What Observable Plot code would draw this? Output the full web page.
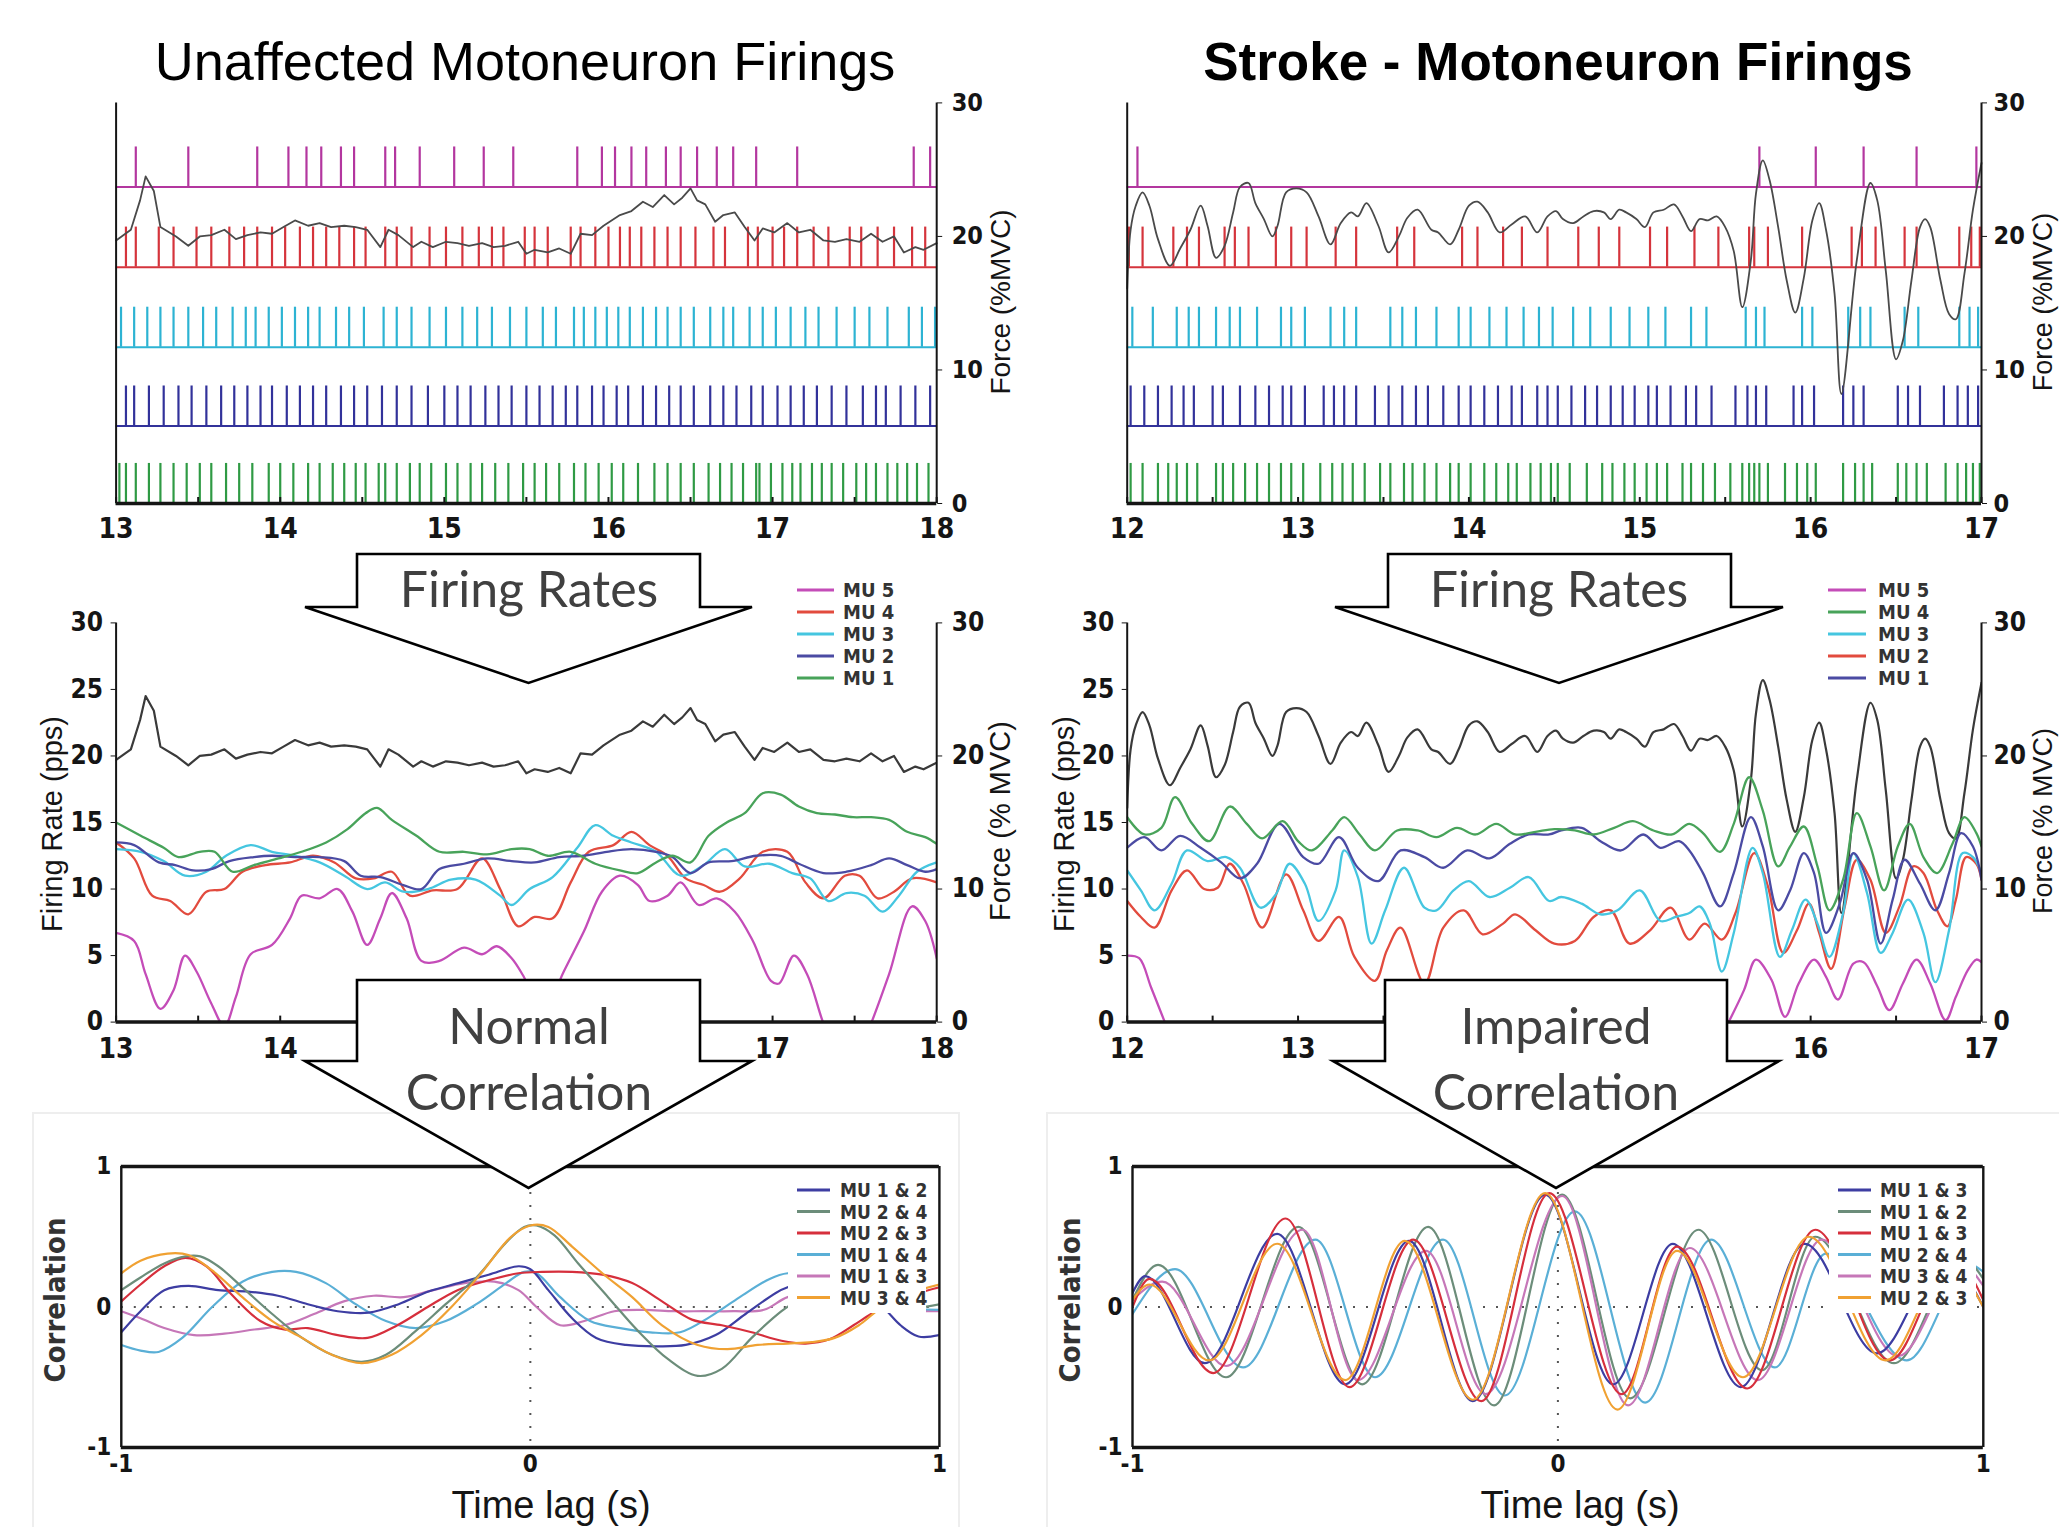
<!DOCTYPE html>
<html><head><meta charset="utf-8">
<script src="https://cdn.jsdelivr.net/npm/d3@7"></script>
<script src="https://cdn.jsdelivr.net/npm/@observablehq/plot@0.6"></script>
<style>
html,body{margin:0;padding:0;background:#fff;}
#root{position:relative;width:2059px;height:1527px;overflow:hidden;background:#fff;}
</style></head>
<body><div id="root"></div>
<script>
// ---------------- DATA ----------------
// Axis ticks (labels hidden by the arrow boxes in the middle row are not drawn)
const xTicksL = [13, 14, 15, 16, 17, 18];
const xTicksR = [12, 13, 14, 15, 16, 17];
const xTicksMidL = [13, 14, 17, 18];
const xTicksMidR = [12, 13, 16, 17];
const minorL = [13, 13.5, 14, 14.5, 15, 15.5, 16, 16.5, 17, 17.5, 18];
const minorR = [12, 12.5, 13, 13.5, 14, 14.5, 15, 15.5, 16, 16.5, 17];
const forceTicks = [0, 10, 20, 30];
const rateTicks = [0, 5, 10, 15, 20, 25, 30];
const lagTicks = [-1, 0, 1];
const corrTicks = [-1, 0, 1];

// Spike times (s) - unaffected
const spkL_MU5 = [13.12,13.44,13.86,14.05,14.16,14.25,14.37,14.45,14.64,14.70,14.85,15.06,15.24,15.42,15.81,15.96,16.04,16.14,16.23,16.35,16.44,16.54,16.66,16.76,16.90,17.15,17.86,17.96];
const spkL_MU4 = [13.06,13.12,13.26,13.35,13.49,13.58,13.69,13.78,13.86,13.95,14.03,14.12,14.20,14.28,14.36,14.45,14.52,14.64,14.71,14.80,14.91,15.01,15.11,15.21,15.29,15.36,15.49,15.55,15.63,15.77,15.83,15.92,16.00,16.07,16.13,16.20,16.28,16.36,16.44,16.53,16.64,16.71,16.85,16.91,17.00,17.07,17.15,17.25,17.34,17.47,17.54,17.64,17.74,17.85,17.93];
const spkL_MU3 = [13.03,13.11,13.19,13.27,13.35,13.44,13.53,13.61,13.71,13.79,13.85,13.93,14.01,14.09,14.17,14.24,14.34,14.42,14.51,14.63,14.71,14.80,14.91,15.01,15.11,15.20,15.29,15.40,15.50,15.60,15.68,15.79,15.85,15.92,15.99,16.06,16.13,16.21,16.29,16.36,16.44,16.52,16.62,16.70,16.76,16.86,16.94,17.02,17.11,17.20,17.28,17.39,17.50,17.59,17.70,17.83,17.91,17.99];
const spkL_MU2 = [13.06,13.11,13.20,13.29,13.38,13.46,13.55,13.64,13.72,13.80,13.88,13.95,14.04,14.12,14.20,14.28,14.37,14.45,14.53,14.62,14.71,14.80,14.90,15.00,15.08,15.16,15.25,15.33,15.41,15.50,15.58,15.66,15.74,15.81,15.90,15.97,16.05,16.12,16.21,16.29,16.37,16.44,16.52,16.62,16.70,16.78,16.87,16.94,17.03,17.11,17.19,17.27,17.36,17.45,17.55,17.63,17.69,17.78,17.87,17.96];
const spkL_MU1 = [13.02,13.06,13.12,13.20,13.27,13.35,13.43,13.51,13.58,13.67,13.75,13.83,13.93,14.00,14.08,14.17,14.24,14.32,14.39,14.46,14.52,14.60,14.64,14.71,14.79,14.85,14.92,15.01,15.08,15.16,15.23,15.31,15.39,15.48,15.55,15.62,15.70,15.79,15.86,15.94,16.02,16.09,16.18,16.28,16.36,16.44,16.52,16.61,16.68,16.75,16.82,16.90,16.92,16.99,17.06,17.12,17.17,17.24,17.30,17.36,17.43,17.51,17.57,17.63,17.70,17.76,17.82,17.88,17.95];

// Spike times (s) - stroke
const spkR_MU5 = [12.06,15.70,16.03,16.31,16.62,16.97];
const spkR_MU2 = [12.01,12.09,12.27,12.35,12.42,12.57,12.63,12.71,12.87,12.96,13.05,13.22,13.34,13.58,13.68,13.96,14.05,14.20,14.31,14.46,14.64,14.76,14.88,15.06,15.16,15.32,15.46,15.64,15.67,15.75,15.95,16.24,16.30,16.38,16.55,16.62,16.87,16.94,16.99];
const spkR_MU3 = [12.03,12.15,12.29,12.36,12.42,12.52,12.60,12.66,12.76,12.90,12.96,13.04,13.19,13.27,13.34,13.54,13.61,13.69,13.81,13.94,14.01,14.12,14.22,14.32,14.41,14.49,14.61,14.71,14.83,14.94,15.05,15.15,15.30,15.39,15.62,15.68,15.73,15.95,16.01,16.22,16.29,16.35,16.55,16.63,16.87,16.93,16.98];
const spkR_MU1 = [12.02,12.10,12.18,12.26,12.33,12.39,12.50,12.56,12.66,12.75,12.83,12.91,12.96,13.04,13.15,13.21,13.27,13.34,13.45,13.53,13.61,13.69,13.76,13.85,13.94,14.01,14.09,14.17,14.25,14.31,14.40,14.46,14.52,14.60,14.68,14.75,14.83,14.90,14.97,15.05,15.10,15.18,15.27,15.33,15.42,15.56,15.63,15.68,15.74,15.90,15.95,16.02,16.19,16.25,16.31,16.51,16.57,16.64,16.78,16.86,16.92,16.98];
const spkR_MU4 = [12.02,12.09,12.18,12.24,12.29,12.35,12.41,12.52,12.56,12.62,12.69,12.76,12.83,12.90,12.96,13.03,13.13,13.20,13.26,13.32,13.39,13.48,13.54,13.62,13.67,13.74,13.81,13.89,13.94,14.01,14.09,14.16,14.23,14.28,14.36,14.42,14.48,14.52,14.59,14.69,14.78,14.84,14.91,14.97,15.04,15.10,15.16,15.25,15.30,15.37,15.44,15.53,15.60,15.64,15.67,15.70,15.75,15.85,15.92,15.98,16.03,16.19,16.26,16.31,16.36,16.51,16.56,16.62,16.68,16.79,16.86,16.91,16.95,16.99];

// Force (%MVC) [time, value]
const forceL = [[13.0,19.7],[13.09,20.5],[13.146,22.7],[13.18,24.5],[13.23,23.4],[13.27,20.7],[13.365,20.0],[13.44,19.3],[13.51,20.0],[13.58,20.1],[13.66,20.5],[13.73,19.8],[13.80,20.1],[13.88,20.3],[13.95,20.2],[14.02,20.7],[14.09,21.2],[14.17,20.8],[14.24,21.0],[14.31,20.7],[14.39,20.8],[14.46,20.7],[14.53,20.5],[14.61,19.2],[14.66,20.5],[14.72,20.1],[14.81,19.2],[14.86,19.6],[14.93,19.2],[15.01,19.6],[15.08,19.5],[15.15,19.3],[15.23,19.5],[15.30,19.2],[15.37,19.3],[15.45,19.6],[15.50,18.7],[15.55,19.0],[15.63,18.8],[15.70,19.1],[15.77,18.7],[15.83,20.2],[15.90,20.1],[15.97,20.8],[16.07,21.6],[16.14,21.9],[16.21,22.6],[16.27,22.2],[16.34,23.1],[16.40,22.4],[16.45,22.9],[16.50,23.6],[16.54,22.7],[16.59,22.4],[16.65,21.1],[16.70,21.6],[16.77,21.8],[16.83,20.7],[16.89,19.7],[16.94,20.6],[17.01,20.3],[17.09,21.0],[17.16,20.3],[17.23,20.5],[17.31,19.7],[17.38,19.6],[17.45,19.8],[17.53,19.6],[17.60,20.2],[17.67,19.6],[17.74,20.0],[17.80,18.8],[17.87,19.2],[17.92,19.0],[18.0,19.5]];
const forceR = [[12.0,16.1],[12.02,20.5],[12.05,22.3],[12.09,23.3],[12.13,22.3],[12.18,19.8],[12.25,17.8],[12.31,19.1],[12.37,20.5],[12.43,22.3],[12.47,20.8],[12.52,18.4],[12.57,19.3],[12.62,21.8],[12.66,23.7],[12.71,24.0],[12.75,22.5],[12.80,21.3],[12.85,20.0],[12.88,20.8],[12.93,23.3],[12.99,23.6],[13.05,23.3],[13.12,21.5],[13.19,19.4],[13.25,21.0],[13.31,21.8],[13.35,21.5],[13.40,22.5],[13.47,20.8],[13.53,18.8],[13.59,20.0],[13.64,21.4],[13.70,22.0],[13.78,20.5],[13.82,20.3],[13.89,19.4],[13.94,20.5],[14.00,22.3],[14.05,22.6],[14.11,21.8],[14.18,20.3],[14.25,20.9],[14.33,21.5],[14.40,20.3],[14.46,21.5],[14.51,21.9],[14.55,21.3],[14.61,21.0],[14.67,21.5],[14.73,21.9],[14.79,21.8],[14.83,21.3],[14.88,22.0],[14.92,21.8],[14.98,21.3],[15.03,20.7],[15.08,21.8],[15.14,22.0],[15.20,22.4],[15.25,21.5],[15.30,20.4],[15.35,21.3],[15.40,21.2],[15.45,21.5],[15.50,20.7],[15.55,18.9],[15.60,14.7],[15.65,18.2],[15.68,23.2],[15.72,25.7],[15.76,24.2],[15.81,20.7],[15.86,16.7],[15.91,14.3],[15.96,16.9],[16.01,21.2],[16.05,22.5],[16.09,20.5],[16.14,15.7],[16.18,8.2],[16.27,18.2],[16.35,24.0],[16.39,22.7],[16.44,17.4],[16.50,10.8],[16.54,12.2],[16.59,16.7],[16.64,20.7],[16.67,21.3],[16.70,20.7],[16.76,16.7],[16.81,14.2],[16.85,13.8],[16.90,17.2],[16.95,22.0],[17.0,25.5]];

// Firing rates (pps) - unaffected [time, rate]
const rateL_MU1 = [[13.0,15.0],[13.15,14.0],[13.29,13.1],[13.38,12.4],[13.51,12.8],[13.60,12.8],[13.71,11.3],[13.84,11.8],[13.99,12.3],[14.13,12.8],[14.28,13.5],[14.41,14.5],[14.52,15.7],[14.59,16.1],[14.68,15.2],[14.83,14.0],[14.97,12.8],[15.12,12.8],[15.26,12.6],[15.41,13.0],[15.52,13.0],[15.63,12.5],[15.77,12.8],[15.92,11.9],[16.07,11.4],[16.18,11.2],[16.29,12.0],[16.39,12.5],[16.50,12.0],[16.61,14.0],[16.72,15.0],[16.83,15.7],[16.94,17.2],[17.05,17.1],[17.16,16.2],[17.27,15.7],[17.38,15.6],[17.49,15.4],[17.60,15.4],[17.71,15.2],[17.82,14.3],[17.93,13.9],[18.0,13.4]];
const rateL_MU2 = [[13.0,13.5],[13.11,13.3],[13.26,12.0],[13.36,11.8],[13.47,11.4],[13.58,11.5],[13.69,12.1],[13.84,12.4],[13.95,12.5],[14.09,12.4],[14.24,12.4],[14.39,12.1],[14.49,11.0],[14.61,10.9],[14.75,10.3],[14.86,10.0],[14.97,11.5],[15.12,11.9],[15.26,12.3],[15.41,12.1],[15.55,12.0],[15.70,12.4],[15.85,12.5],[15.99,12.8],[16.14,13.0],[16.29,12.8],[16.39,12.4],[16.50,11.2],[16.61,12.0],[16.75,12.1],[16.90,12.5],[17.05,12.5],[17.16,11.9],[17.31,11.2],[17.45,11.3],[17.60,11.8],[17.71,12.3],[17.82,11.8],[17.93,11.3],[18.0,11.5]];
const rateL_MU3 = [[13.0,13.0],[13.15,12.8],[13.29,12.1],[13.42,11.0],[13.55,11.3],[13.67,12.5],[13.82,13.3],[13.95,12.8],[14.09,12.5],[14.24,12.0],[14.39,11.0],[14.53,10.0],[14.64,10.5],[14.75,9.8],[14.90,10.0],[15.04,10.7],[15.19,10.7],[15.34,9.5],[15.41,8.8],[15.52,10.0],[15.66,10.9],[15.81,13.1],[15.92,14.8],[16.03,14.0],[16.14,13.5],[16.29,12.8],[16.44,11.0],[16.58,11.8],[16.71,13.0],[16.83,11.7],[16.98,11.9],[17.12,11.2],[17.23,10.8],[17.34,9.1],[17.45,9.7],[17.56,9.5],[17.67,8.3],[17.77,9.5],[17.88,11.3],[18.0,12.0]];
const rateL_MU4 = [[13.0,13.5],[13.11,12.3],[13.22,9.5],[13.33,9.1],[13.44,8.1],[13.55,9.8],[13.66,10.0],[13.77,11.3],[13.91,11.8],[14.06,12.0],[14.20,12.5],[14.33,12.0],[14.46,10.8],[14.57,10.8],[14.68,11.3],[14.79,9.5],[14.93,9.9],[15.08,10.0],[15.23,12.3],[15.34,10.0],[15.45,7.2],[15.55,7.9],[15.66,7.8],[15.77,10.5],[15.88,12.8],[16.03,13.3],[16.14,14.3],[16.25,13.3],[16.36,12.5],[16.47,10.8],[16.58,10.3],[16.68,9.8],[16.80,10.8],[16.94,12.8],[17.09,12.8],[17.20,10.5],[17.31,9.3],[17.44,11.0],[17.53,11.0],[17.64,9.3],[17.74,9.8],[17.85,10.8],[18.0,10.5]];
const rateL_MU5 = [[13.0,6.7],[13.11,6.1],[13.18,3.6],[13.27,1.0],[13.35,2.4],[13.42,5.0],[13.49,3.8],[13.58,1.4],[13.66,-0.3],[13.73,1.9],[13.82,5.1],[13.95,5.8],[14.06,7.8],[14.13,9.5],[14.24,9.3],[14.35,10.0],[14.44,8.3],[14.53,5.8],[14.61,7.8],[14.68,9.7],[14.77,7.8],[14.86,4.6],[14.97,4.6],[15.12,5.6],[15.23,5.1],[15.32,5.7],[15.41,4.8],[15.48,3.5],[15.55,1.9],[15.64,1.5],[15.72,3.6],[15.85,6.8],[15.96,9.8],[16.07,11.0],[16.18,10.3],[16.25,9.1],[16.36,9.5],[16.44,10.5],[16.55,8.8],[16.66,9.3],[16.77,8.3],[16.88,6.1],[16.99,3.1],[17.04,2.9],[17.13,5.0],[17.21,3.6],[17.31,-0.1],[17.38,-2],[17.53,-2],[17.60,-0.1],[17.71,3.6],[17.85,8.7],[17.93,7.6],[18.0,4.8]];

// Firing rates (pps) - stroke
const rateR_MU4 = [[12.0,15.4],[12.10,14.1],[12.20,14.6],[12.28,16.9],[12.38,14.9],[12.48,13.6],[12.60,16.2],[12.70,14.9],[12.79,13.8],[12.91,15.1],[13.00,13.6],[13.08,12.9],[13.20,14.4],[13.27,15.4],[13.36,14.1],[13.45,12.9],[13.58,14.4],[13.70,14.4],[13.81,13.9],[13.93,14.6],[14.04,14.1],[14.16,14.9],[14.27,14.1],[14.39,14.3],[14.50,14.5],[14.62,14.4],[14.73,14.1],[14.85,14.6],[14.96,15.1],[15.08,14.4],[15.19,14.1],[15.29,14.9],[15.37,14.2],[15.47,12.8],[15.55,14.9],[15.64,18.4],[15.72,15.9],[15.81,11.7],[15.88,13.2],[15.96,14.7],[16.04,11.7],[16.11,8.4],[16.19,10.7],[16.27,15.7],[16.35,13.2],[16.43,9.9],[16.51,13.2],[16.58,14.9],[16.66,12.4],[16.74,11.2],[16.83,13.4],[16.90,15.4],[16.97,14.2],[17.0,13.2]];
const rateR_MU1 = [[12.0,13.1],[12.10,13.9],[12.20,12.9],[12.31,14.0],[12.43,13.1],[12.55,12.0],[12.66,10.8],[12.76,11.9],[12.89,14.9],[13.03,12.4],[13.12,11.9],[13.24,13.9],[13.35,11.6],[13.47,10.6],[13.60,12.9],[13.74,12.4],[13.85,11.6],[13.99,12.9],[14.12,12.3],[14.24,13.4],[14.35,14.1],[14.47,14.1],[14.54,14.4],[14.66,14.6],[14.77,13.6],[14.89,12.9],[15.02,14.1],[15.12,13.1],[15.23,13.6],[15.29,12.9],[15.37,11.2],[15.47,8.7],[15.55,11.2],[15.65,15.4],[15.72,13.2],[15.81,8.4],[15.88,9.9],[15.96,12.7],[16.02,11.2],[16.09,6.7],[16.17,8.9],[16.25,12.7],[16.33,10.7],[16.41,5.9],[16.48,9.2],[16.55,12.2],[16.64,10.4],[16.73,8.4],[16.81,11.2],[16.88,14.2],[16.95,13.2],[17.0,10.7]];
const rateR_MU3 = [[12.0,11.4],[12.08,9.9],[12.16,8.4],[12.26,10.4],[12.35,12.9],[12.47,12.1],[12.58,12.4],[12.66,11.6],[12.78,8.6],[12.87,9.6],[12.95,11.9],[13.04,10.4],[13.12,7.6],[13.22,9.9],[13.27,12.9],[13.35,10.9],[13.43,5.9],[13.51,8.4],[13.62,11.6],[13.74,8.6],[13.81,8.4],[13.91,9.9],[14.00,10.6],[14.12,9.4],[14.24,10.1],[14.35,10.9],[14.47,9.1],[14.54,9.4],[14.66,8.9],[14.77,8.1],[14.87,8.4],[15.00,9.9],[15.12,7.6],[15.21,7.9],[15.29,8.2],[15.35,8.7],[15.41,7.4],[15.48,3.8],[15.55,6.7],[15.66,13.1],[15.72,11.2],[15.82,4.9],[15.89,6.9],[15.97,9.2],[16.04,7.4],[16.11,4.9],[16.19,8.2],[16.25,12.7],[16.33,9.7],[16.41,5.2],[16.48,6.7],[16.57,9.2],[16.66,6.7],[16.73,3.0],[16.81,6.9],[16.89,12.7],[16.95,12.4],[17.0,11.2]];
const rateR_MU2 = [[12.0,9.1],[12.08,7.9],[12.16,7.1],[12.26,9.9],[12.35,11.4],[12.45,10.0],[12.53,10.1],[12.60,11.9],[12.68,10.4],[12.79,7.1],[12.93,11.1],[13.03,8.4],[13.12,6.1],[13.24,7.9],[13.33,4.9],[13.45,3.1],[13.52,5.4],[13.60,7.1],[13.74,2.9],[13.85,7.1],[13.97,8.4],[14.08,6.6],[14.20,7.4],[14.27,8.1],[14.39,6.9],[14.50,5.9],[14.62,6.1],[14.73,7.9],[14.83,8.4],[14.94,5.9],[15.06,6.9],[15.18,8.6],[15.29,6.2],[15.38,7.4],[15.48,6.2],[15.56,8.2],[15.67,12.7],[15.75,10.2],[15.84,5.2],[15.92,6.9],[15.99,8.9],[16.05,6.7],[16.12,4.0],[16.20,8.7],[16.27,12.2],[16.35,10.7],[16.44,6.7],[16.52,8.7],[16.60,11.7],[16.66,11.2],[16.74,8.4],[16.80,7.2],[16.85,9.2],[16.91,12.4],[16.97,11.9],[17.0,10.7]];
const rateR_MU5 = [[12.0,5.0],[12.07,4.8],[12.14,2.6],[12.22,0],[12.25,null],[15.52,0],[15.61,2.4],[15.68,4.7],[15.77,3.2],[15.85,0.4],[15.93,2.9],[16.02,4.7],[16.09,3.4],[16.16,1.7],[16.25,4.4],[16.31,4.5],[16.39,2.7],[16.46,0.9],[16.54,2.9],[16.62,4.7],[16.70,2.9],[16.79,0.15],[16.85,1.9],[16.92,3.9],[16.97,4.7],[17.0,4.5]];

// Cross-correlation [lag (s), r] - unaffected
const corrL_12 = [[-1.0,-0.18],[-0.953,-0.03],[-0.895,0.12],[-0.836,0.15],[-0.763,0.12],[-0.690,0.11],[-0.617,0.08],[-0.544,0.02],[-0.471,-0.03],[-0.395,-0.04],[-0.322,0.02],[-0.249,0.11],[-0.176,0.17],[-0.102,0.23],[-0.029,0.29],[0.0,0.27],[0.044,0.12],[0.102,-0.08],[0.161,-0.22],[0.234,-0.27],[0.307,-0.28],[0.380,-0.27],[0.453,-0.20],[0.526,-0.05],[0.600,0.10],[0.629,0.14],[0.72,0.2],[0.80,0.12],[0.861,0.0],[0.905,-0.13],[0.949,-0.21],[1.0,-0.2]];
const corrL_24 = [[-1.0,0.12],[-0.953,0.21],[-0.895,0.31],[-0.843,0.36],[-0.807,0.36],[-0.763,0.29],[-0.704,0.14],[-0.631,-0.05],[-0.558,-0.22],[-0.485,-0.34],[-0.412,-0.39],[-0.353,-0.34],[-0.280,-0.17],[-0.207,0.02],[-0.132,0.21],[-0.059,0.46],[-0.015,0.57],[0.015,0.58],[0.059,0.51],[0.117,0.31],[0.190,0.07],[0.263,-0.17],[0.336,-0.37],[0.409,-0.49],[0.468,-0.44],[0.541,-0.22],[0.614,-0.03],[0.66,0.06],[0.75,0.2],[0.85,0.1],[0.93,0.0],[1.0,0.02]];
const corrL_23 = [[-1.0,0.04],[-0.953,0.16],[-0.895,0.29],[-0.843,0.35],[-0.792,0.29],[-0.734,0.10],[-0.660,-0.10],[-0.602,-0.16],[-0.544,-0.15],[-0.471,-0.20],[-0.398,-0.22],[-0.325,-0.13],[-0.251,0.0],[-0.178,0.12],[-0.102,0.19],[-0.029,0.24],[0.029,0.25],[0.102,0.25],[0.176,0.23],[0.249,0.17],[0.322,0.04],[0.395,-0.09],[0.468,-0.13],[0.541,-0.18],[0.614,-0.24],[0.673,-0.26],[0.731,-0.23],[0.790,-0.13],[0.833,-0.05],[0.9,0.05],[0.95,0.1],[1.0,0.14]];
const corrL_14 = [[-1.0,-0.27],[-0.953,-0.31],[-0.909,-0.32],[-0.851,-0.22],[-0.778,0.0],[-0.704,0.18],[-0.631,0.25],[-0.573,0.25],[-0.500,0.17],[-0.427,0.02],[-0.353,-0.10],[-0.280,-0.15],[-0.207,-0.10],[-0.132,0.02],[-0.059,0.17],[-0.015,0.25],[0.015,0.24],[0.073,0.07],[0.146,-0.10],[0.220,-0.15],[0.293,-0.18],[0.366,-0.18],[0.439,-0.07],[0.512,0.07],[0.585,0.20],[0.629,0.24],[0.7,0.22],[0.8,0.08],[0.9,0.0],[1.0,-0.02]];
const corrL_13 = [[-1.0,-0.03],[-0.953,-0.08],[-0.895,-0.15],[-0.822,-0.20],[-0.748,-0.19],[-0.675,-0.16],[-0.602,-0.13],[-0.529,-0.05],[-0.456,0.04],[-0.383,0.08],[-0.310,0.07],[-0.237,0.12],[-0.161,0.17],[-0.088,0.18],[-0.029,0.12],[0.015,0.0],[0.073,-0.13],[0.132,-0.10],[0.205,-0.03],[0.278,-0.02],[0.351,-0.03],[0.424,-0.03],[0.497,-0.03],[0.571,-0.02],[0.629,0.07],[0.7,0.1],[0.8,0.03],[0.9,-0.02],[1.0,-0.03]];
const corrL_34 = [[-1.0,0.24],[-0.953,0.33],[-0.887,0.38],[-0.836,0.37],[-0.778,0.26],[-0.704,0.07],[-0.631,-0.10],[-0.558,-0.22],[-0.485,-0.34],[-0.412,-0.40],[-0.339,-0.34],[-0.266,-0.20],[-0.193,0.0],[-0.120,0.24],[-0.047,0.50],[0.0,0.58],[0.044,0.57],[0.102,0.43],[0.176,0.24],[0.249,0.07],[0.322,-0.13],[0.409,-0.27],[0.482,-0.30],[0.556,-0.27],[0.629,-0.26],[0.688,-0.25],[0.744,-0.22],[0.803,-0.13],[0.86,0.0],[0.93,0.1],[1.0,0.16]];

// Cross-correlation - stroke (extrema)
const corrR_13a = [[-1.0,0.10],[-0.97,0.22],[-0.83,-0.40],[-0.66,0.52],[-0.50,-0.55],[-0.35,0.47],[-0.20,-0.67],[-0.03,0.80],[0.13,-0.55],[0.27,0.45],[0.43,-0.57],[0.58,0.45],[0.75,-0.33],[0.91,0.35],[1.0,0.0]];
const corrR_12 = [[-1.0,0.05],[-0.94,0.30],[-0.78,-0.50],[-0.61,0.57],[-0.46,-0.55],[-0.305,0.57],[-0.15,-0.70],[0.01,0.80],[0.17,-0.65],[0.33,0.55],[0.48,-0.45],[0.605,0.50],[0.79,-0.40],[0.95,0.35],[1.0,0.2]];
const corrR_13b = [[-1.0,0.0],[-0.96,0.20],[-0.81,-0.47],[-0.64,0.63],[-0.49,-0.57],[-0.34,0.48],[-0.18,-0.67],[-0.02,0.81],[0.15,-0.62],[0.28,0.43],[0.445,-0.58],[0.605,0.55],[0.78,-0.38],[0.93,0.35],[1.0,0.05]];
const corrR_24 = [[-1.0,-0.05],[-0.90,0.27],[-0.74,-0.43],[-0.57,0.48],[-0.43,-0.50],[-0.27,0.48],[-0.125,-0.63],[0.04,0.68],[0.205,-0.68],[0.36,0.48],[0.51,-0.43],[0.63,0.38],[0.82,-0.38],[0.97,0.3],[1.0,0.25]];
const corrR_34 = [[-1.0,0.05],[-0.93,0.18],[-0.78,-0.42],[-0.60,0.55],[-0.47,-0.52],[-0.31,0.40],[-0.17,-0.62],[0.01,0.79],[0.165,-0.70],[0.31,0.42],[0.47,-0.52],[0.62,0.48],[0.80,-0.35],[0.95,0.3],[1.0,0.15]];
const corrR_23 = [[-1.0,0.05],[-0.96,0.16],[-0.82,-0.38],[-0.66,0.45],[-0.50,-0.52],[-0.36,0.47],[-0.20,-0.66],[-0.03,0.81],[0.14,-0.73],[0.28,0.40],[0.435,-0.50],[0.59,0.50],[0.77,-0.38],[0.92,0.3],[1.0,0.0]];

// Legend labels
const legendRateL = ["MU 5", "MU 4", "MU 3", "MU 2", "MU 1"];
const legendRateR = ["MU 5", "MU 4", "MU 3", "MU 2", "MU 1"];
const legendCorrL = ["MU 1 & 2", "MU 2 & 4", "MU 2 & 3", "MU 1 & 4", "MU 1 & 3", "MU 3 & 4"];
const legendCorrR = ["MU 1 & 3", "MU 1 & 2", "MU 1 & 3", "MU 2 & 4", "MU 3 & 4", "MU 2 & 3"];

// ---------------- STYLE ----------------
const NARROW = "'Liberation Sans Narrow','Arial Narrow','DejaVu Sans Condensed',sans-serif";
const SANS = "'Liberation Sans',Arial,sans-serif";
const CAL = "Lato,'Open Sans',sans-serif";
const RC = {mag: "#b3369f", red: "#d5343c", cyan: "#2db3d3", navy: "#32329a", green: "#2f9a44"};
const MC = {mag: "#c44cb8", red: "#e24b3e", cyan: "#45c6e0", navy: "#4b4ba3", green: "#48a35a", black: "#3a3a3a"};
const CC = {navy: "#3d3da2", sage: "#6c8d7a", red: "#d62f3c", blue: "#5aafd6", pink: "#c677b8", orange: "#f0a132"};
const INK = "#151515";
const fmt = d => String(d);
const XY = {x: d => d[0], y: d => d[1]};

const root = document.getElementById("root");
function place(node, left, top) {
  node.style.position = "absolute";
  node.style.left = left + "px";
  node.style.top = top + "px";
  root.appendChild(node);
}
function baseStyle(size) {
  return {fontFamily: NARROW, fontSize: size + "px", fontWeight: "bold", color: INK, background: "transparent", overflow: "visible"};
}

// ---------- Raster panels (top) ----------
function rasterPanel(cfg) {
  const marks = [];
  for (const r of cfg.rows) {
    marks.push(Plot.ruleY([r.base], {stroke: r.color, strokeWidth: 2}));
    marks.push(Plot.ruleX(r.times, {x: d => d, y1: () => r.base, y2: () => r.base + 3, stroke: r.color, strokeWidth: 2.2}));
  }
  marks.push(Plot.line(cfg.force, {...XY, stroke: "#4a4a4a", strokeWidth: 1.8, curve: cfg.forceCurve}));
  marks.push(Plot.ruleX([cfg.domain[0], cfg.domain[1]], {stroke: INK, strokeWidth: 2}));
  marks.push(Plot.ruleX(cfg.minor, {x: d => d, y1: () => 0, y2: () => 0.45, stroke: INK, strokeWidth: 2}));
  marks.push(Plot.ruleY([0], {stroke: INK, strokeWidth: 3.5}));
  marks.push(Plot.axisX({ticks: cfg.ticks, tickSize: 0, tickPadding: 15, tickFormat: fmt, label: null}));
  marks.push(Plot.axisY({anchor: "right", ticks: forceTicks, tickSize: 5, tickPadding: cfg.rPad, tickFormat: fmt, label: null, fontSize: 25}));
  return Plot.plot({
    width: cfg.width, height: 520,
    marginLeft: cfg.mL, marginRight: cfg.mR, marginTop: 42.4, marginBottom: 77,
    x: {domain: cfg.domain}, y: {domain: [0, 30]},
    style: baseStyle(28), marks
  });
}

// ---------- Firing-rate panels (middle) ----------
function ratePanel(cfg) {
  const marks = [];
  marks.push(Plot.line(cfg.force, {...XY, stroke: MC.black, strokeWidth: 2.2, curve: cfg.forceCurve, clip: true}));
  for (const s of cfg.series) {
    marks.push(Plot.line(s.data, {...XY, stroke: s.color, strokeWidth: 2.3, curve: "catmull-rom", clip: true}));
  }
  marks.push(Plot.ruleX([cfg.domain[0], cfg.domain[1]], {stroke: INK, strokeWidth: 2}));
  marks.push(Plot.ruleX(cfg.minor, {x: d => d, y1: () => 0, y2: () => 0.45, stroke: INK, strokeWidth: 2}));
  marks.push(Plot.ruleY([0], {stroke: INK, strokeWidth: 3.5}));
  marks.push(Plot.axisX({ticks: cfg.ticks, tickSize: 0, tickPadding: 16, tickFormat: fmt, label: null}));
  marks.push(Plot.axisY({anchor: "left", ticks: rateTicks, tickSize: 5, tickPadding: 8, tickFormat: fmt, label: null, fontSize: 26}));
  marks.push(Plot.axisY({anchor: "right", ticks: forceTicks, tickSize: 5, tickPadding: cfg.rPad, tickFormat: fmt, label: null, fontSize: 26}));
  return Plot.plot({
    width: cfg.width, height: 480,
    marginLeft: cfg.mL, marginRight: cfg.mR, marginTop: 22.4, marginBottom: 58.4,
    x: {domain: cfg.domain}, y: {domain: [0, 30]},
    style: baseStyle(28), marks
  });
}

// ---------- Correlation panels (bottom) ----------
function corrPanel(cfg) {
  const marks = [];
  marks.push(Plot.ruleY([0], {stroke: "#555", strokeWidth: 2, strokeDasharray: "2 11"}));
  marks.push(Plot.ruleX([0], {stroke: "#555", strokeWidth: 2, strokeDasharray: "2 11"}));
  for (const s of cfg.series) {
    marks.push(Plot.line(s.data, {...XY, stroke: s.color, strokeWidth: 2.2, curve: cfg.curve, clip: true}));
  }
  marks.push(Plot.ruleY([-1, 1], {stroke: INK, strokeWidth: 3.6}));
  marks.push(Plot.ruleX([-1, 1], {stroke: INK, strokeWidth: 2.4}));
  marks.push(Plot.axisX({ticks: lagTicks, tickSize: 0, tickPadding: 7, tickFormat: fmt, label: null}));
  marks.push(Plot.axisY({anchor: "left", ticks: corrTicks, tickSize: 0, tickPadding: 10, tickFormat: fmt, label: null}));
  return Plot.plot({
    width: cfg.width, height: 380,
    marginLeft: cfg.mL, marginRight: cfg.mR, marginTop: 46, marginBottom: 53,
    x: {domain: [-1, 1]}, y: {domain: [-1, 1]},
    style: baseStyle(24), marks
  });
}

// ---------------- BUILD ----------------
place(rasterPanel({
  domain: [13, 18], ticks: xTicksL, minor: minorL, force: forceL, forceCurve: "linear", width: 960, mL: 75.6, mR: 63.8, rPad: 10,
  rows: [
    {times: spkL_MU5, color: RC.mag, base: 23.7},
    {times: spkL_MU4, color: RC.red, base: 17.7},
    {times: spkL_MU3, color: RC.cyan, base: 11.7},
    {times: spkL_MU2, color: RC.navy, base: 5.8},
    {times: spkL_MU1, color: RC.green, base: 0}
  ]
}), 40, 60);

place(rasterPanel({
  domain: [12, 17], ticks: xTicksR, minor: minorR, force: forceR, forceCurve: "catmull-rom", width: 989, mL: 56.7, mR: 78, rPad: 7,
  rows: [
    {times: spkR_MU5, color: RC.mag, base: 23.7},
    {times: spkR_MU2, color: RC.red, base: 17.7},
    {times: spkR_MU3, color: RC.cyan, base: 11.7},
    {times: spkR_MU1, color: RC.navy, base: 5.8},
    {times: spkR_MU4, color: RC.green, base: 0}
  ]
}), 1070, 60);

place(ratePanel({
  domain: [13, 18], ticks: xTicksMidL, minor: minorL, force: forceL, forceCurve: "linear", width: 960, mL: 75.6, mR: 63.8, rPad: 10,
  series: [
    {data: rateL_MU5, color: MC.mag},
    {data: rateL_MU4, color: MC.red},
    {data: rateL_MU3, color: MC.cyan},
    {data: rateL_MU2, color: MC.navy},
    {data: rateL_MU1, color: MC.green}
  ]
}), 40, 600);

place(ratePanel({
  domain: [12, 17], ticks: xTicksMidR, minor: minorR, force: forceR, forceCurve: "catmull-rom", width: 1009, mL: 76.7, mR: 78, rPad: 7,
  series: [
    {data: rateR_MU5, color: MC.mag},
    {data: rateR_MU2, color: MC.red},
    {data: rateR_MU3, color: MC.cyan},
    {data: rateR_MU1, color: MC.navy},
    {data: rateR_MU4, color: MC.green}
  ]
}), 1050, 600);

place(corrPanel({
  width: 960, mL: 80.8, mR: 61.1, curve: "catmull-rom",
  series: [
    {data: corrL_13, color: CC.pink},
    {data: corrL_14, color: CC.blue},
    {data: corrL_12, color: CC.navy},
    {data: corrL_23, color: CC.red},
    {data: corrL_24, color: CC.sage},
    {data: corrL_34, color: CC.orange}
  ]
}), 40, 1120);

place(corrPanel({
  width: 1009, mL: 82, mR: 76.2, curve: "monotone-x",
  series: [
    {data: corrR_24, color: CC.blue},
    {data: corrR_12, color: CC.sage},
    {data: corrR_34, color: CC.pink},
    {data: corrR_13a, color: CC.navy},
    {data: corrR_13b, color: CC.red},
    {data: corrR_23, color: CC.orange}
  ]
}), 1050, 1120);

// ---------------- OVERLAY: titles, axis titles, legends, arrows ----------------
const ov = d3.create("svg").attr("width", 2059).attr("height", 1527);
const ovNode = ov.node();

// faint borders of the pasted correlation images
ov.append("rect").attr("x", 33).attr("y", 1113).attr("width", 926).attr("height", 420)
  .attr("fill", "none").attr("stroke", "#eeeeee").attr("stroke-width", 2);
ov.append("rect").attr("x", 1047).attr("y", 1113).attr("width", 1020).attr("height", 420)
  .attr("fill", "none").attr("stroke", "#eeeeee").attr("stroke-width", 2);

function txt(s, x, y, o = {}) {
  const t = ov.append("text").text(s).attr("x", x).attr("y", y)
    .attr("text-anchor", o.anchor || "middle")
    .attr("font-family", o.family || SANS).attr("font-size", o.size || 28)
    .attr("font-weight", o.weight || "normal").attr("fill", o.fill || INK);
  if (o.baseline) t.attr("dominant-baseline", o.baseline);
  return t;
}
function vtxt(s, x, y, o = {}) {
  ov.append("text").text(s)
    .attr("transform", `translate(${x},${y}) rotate(-90)`)
    .attr("text-anchor", "middle").attr("dominant-baseline", "central")
    .attr("font-family", o.family || SANS).attr("font-size", o.size || 28)
    .attr("font-weight", o.weight || "normal").attr("fill", o.fill || INK);
}

// Titles
txt("Unaffected Motoneuron Firings", 525, 80, {size: 54, fill: "#000"});
txt("Stroke - Motoneuron Firings", 1558, 80, {size: 53, weight: "bold", fill: "#000"});

// Axis titles
vtxt("Force (%MVC)", 1000, 302, {size: 28});
vtxt("Force (%MVC)", 2043, 302, {size: 27});
vtxt("Firing Rate (pps)", 52, 824, {size: 29});
vtxt("Firing Rate (pps)", 1064, 824, {size: 29});
vtxt("Force (% MVC)", 1000, 821, {size: 29});
vtxt("Force (% MVC)", 2043, 821, {size: 27});
vtxt("Correlation", 55, 1300, {size: 29, family: NARROW, weight: "bold", fill: "#333"});
vtxt("Correlation", 1070, 1300, {size: 29, family: NARROW, weight: "bold", fill: "#333"});
txt("Time lag (s)", 551, 1518, {size: 38});
txt("Time lag (s)", 1580, 1518, {size: 38});

// Legends
function legend(labels, colors, x0, rowY, opts = {}) {
  if (opts.box) {
    ov.append("rect").attr("x", opts.box[0]).attr("y", opts.box[1])
      .attr("width", opts.box[2]).attr("height", opts.box[3]).attr("fill", "#fff");
  }
  labels.forEach((lab, i) => {
    const y = rowY[i];
    ov.append("line").attr("x1", x0).attr("x2", x0 + opts.sw).attr("y1", y).attr("y2", y)
      .attr("stroke", colors[i]).attr("stroke-width", 3);
    txt(lab, x0 + opts.sw + opts.gap, y, {anchor: "start", family: NARROW, weight: "bold", size: opts.size, fill: "#333", baseline: "central"});
  });
}
const rowsMid = [590, 612, 634, 656, 678];
const rowsBot = [1190, 1211.5, 1233, 1254.5, 1276, 1297.5];
legend(legendRateL, [MC.mag, MC.red, MC.cyan, MC.navy, MC.green], 797, rowsMid, {sw: 37, gap: 9, size: 20});
legend(legendRateR, [MC.mag, MC.green, MC.cyan, MC.red, MC.navy], 1828, rowsMid, {sw: 38, gap: 12, size: 20});
legend(legendCorrL, [CC.navy, CC.sage, CC.red, CC.blue, CC.pink, CC.orange], 797, rowsBot, {sw: 33, gap: 10, size: 19, box: [788, 1175, 138, 138]});
legend(legendCorrR, [CC.navy, CC.sage, CC.red, CC.blue, CC.pink, CC.orange], 1838, rowsBot, {sw: 33, gap: 9, size: 19, box: [1829, 1175, 147, 138]});

// Block arrows
function arrow(xl, xr, top, shoulder, hl, hr, tip) {
  const cx = (hl + hr) / 2;
  const pts = [[xl, top], [xr, top], [xr, shoulder], [hr, shoulder], [cx, tip], [hl, shoulder], [xl, shoulder]];
  ov.append("polygon").attr("points", pts.map(p => p.join(",")).join(" "))
    .attr("fill", "#fff").attr("stroke", "#000").attr("stroke-width", 2.6).attr("stroke-linejoin", "miter");
}
arrow(357, 700, 554, 607, 305, 752, 683);
arrow(357, 700, 980, 1061, 305, 752, 1188);
arrow(1388, 1731, 554, 607, 1335, 1783, 683);
arrow(1385, 1727, 980, 1061, 1333, 1779, 1188);

const AT = {family: CAL, size: 50, fill: "#404040"};
txt("Firing Rates", 529, 607, AT);
txt("Normal", 529, 1044, AT);
txt("Correlation", 529, 1110, AT);
txt("Firing Rates", 1559, 607, AT);
txt("Impaired", 1556, 1044, AT);
txt("Correlation", 1556, 1110, AT);

place(ovNode, 0, 0);
</script>
</body></html>
